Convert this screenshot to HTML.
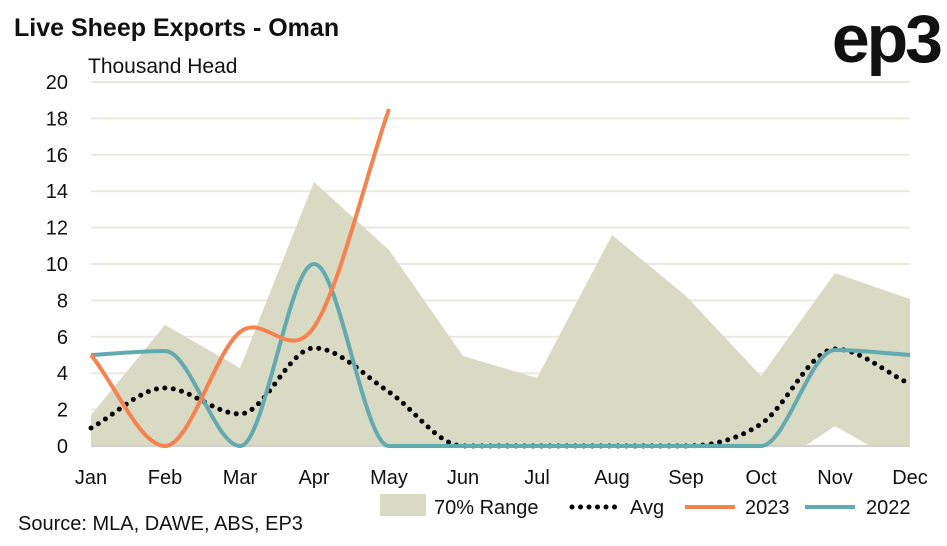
<!DOCTYPE html><html><head><style>body{margin:0;background:#fff}svg{font-family:"Liberation Sans",sans-serif}</style></head><body>
<svg id="s" width="947" height="541" xmlns="http://www.w3.org/2000/svg">
<text x="14" y="36" font-size="25" font-weight="bold" fill="#111">Live Sheep Exports - Oman</text>
<text x="940" y="62" font-size="68" font-weight="bold" fill="#111" text-anchor="end" letter-spacing="-3">ep3</text>
<text x="88" y="73" font-size="21" fill="#111">Thousand Head</text>
<g id="grid" stroke="#ebe9df" stroke-width="2"></g>
<polygon fill="#d9dac3" points="91,415 165,325 240,368 314,182 389,250 463,356 537,378 612,235 686,296 761,376 835,273 910,299 910,446 870,446 835,426 805,446 91,446"/>
<line x1="91" y1="446" x2="910" y2="446" stroke="#d0d0d0" stroke-width="2"/>
<path id="avg" fill="none" stroke="#000" stroke-width="5" stroke-linecap="round" stroke-dasharray="0 8.5"/>
<path id="l22" fill="none" stroke="#62a9b0" stroke-width="4"/>
<path id="l23" fill="none" stroke="#f5824f" stroke-width="4"/>
<g id="lab" font-size="20" fill="#111"></g>
<rect x="380" y="494" width="46" height="22" fill="#d9dac3"/>
<text x="434" y="514" font-size="20" fill="#111">70% Range</text>
<line x1="572" y1="507" x2="620" y2="507" stroke="#000" stroke-width="5" stroke-linecap="round" stroke-dasharray="0 8.5"/>
<text x="630" y="514" font-size="20" fill="#111">Avg</text>
<line x1="685" y1="507" x2="735" y2="507" stroke="#f5824f" stroke-width="4"/>
<text x="745" y="514" font-size="20" fill="#111">2023</text>
<line x1="805" y1="507" x2="855" y2="507" stroke="#62a9b0" stroke-width="4"/>
<text x="866" y="514" font-size="20" fill="#111">2022</text>
<text x="18" y="530" font-size="20" fill="#111">Source: MLA, DAWE, ABS, EP3</text>
</svg>
<script>
var X=[91,165,240,314,389,463,537,612,686,761,835,910];
function y(v){return 446-18.2*v}
var g=document.getElementById('grid'),lab=document.getElementById('lab'),ns="http://www.w3.org/2000/svg";
for(var v=0;v<=20;v+=2){if(v>0){var l=document.createElementNS(ns,'line');l.setAttribute('x1',91);l.setAttribute('x2',910);l.setAttribute('y1',y(v));l.setAttribute('y2',y(v));g.appendChild(l);}
var t=document.createElementNS(ns,'text');t.setAttribute('x',68);t.setAttribute('y',y(v)+7);t.setAttribute('text-anchor','end');t.textContent=v;lab.appendChild(t);}
var M=['Jan','Feb','Mar','Apr','May','Jun','Jul','Aug','Sep','Oct','Nov','Dec'];
M.forEach(function(m,i){var t=document.createElementNS(ns,'text');t.setAttribute('x',X[i]);t.setAttribute('y',484);t.setAttribute('text-anchor','middle');t.textContent=m;lab.appendChild(t);});
function path(ys){var n=ys.length,h=[],d=[],m=[];for(var i=0;i<n-1;i++){h[i]=X[i+1]-X[i];d[i]=(ys[i+1]-ys[i])/h[i];}
m[0]=d[0];m[n-1]=d[n-2];for(i=1;i<n-1;i++){m[i]=(d[i-1]*d[i]<=0)?0:(d[i-1]+d[i])/2;}
var s='M'+X[0]+','+ys[0];for(i=0;i<n-1;i++){var k=h[i]/3;s+='C'+(X[i]+k)+','+(ys[i]+m[i]*k)+' '+(X[i+1]-k)+','+(ys[i+1]-m[i+1]*k)+' '+X[i+1]+','+ys[i+1];}return s;}
document.getElementById('avg').setAttribute('d',path([428,388,414,348,392,446,446,446,446,424,349,384]));
document.getElementById('l22').setAttribute('d',path([355,351,446,264,446,446,446,446,446,446,350,355]));
document.getElementById('l23').setAttribute('d',path([355,446,332,327,109]));
</script></body></html>
